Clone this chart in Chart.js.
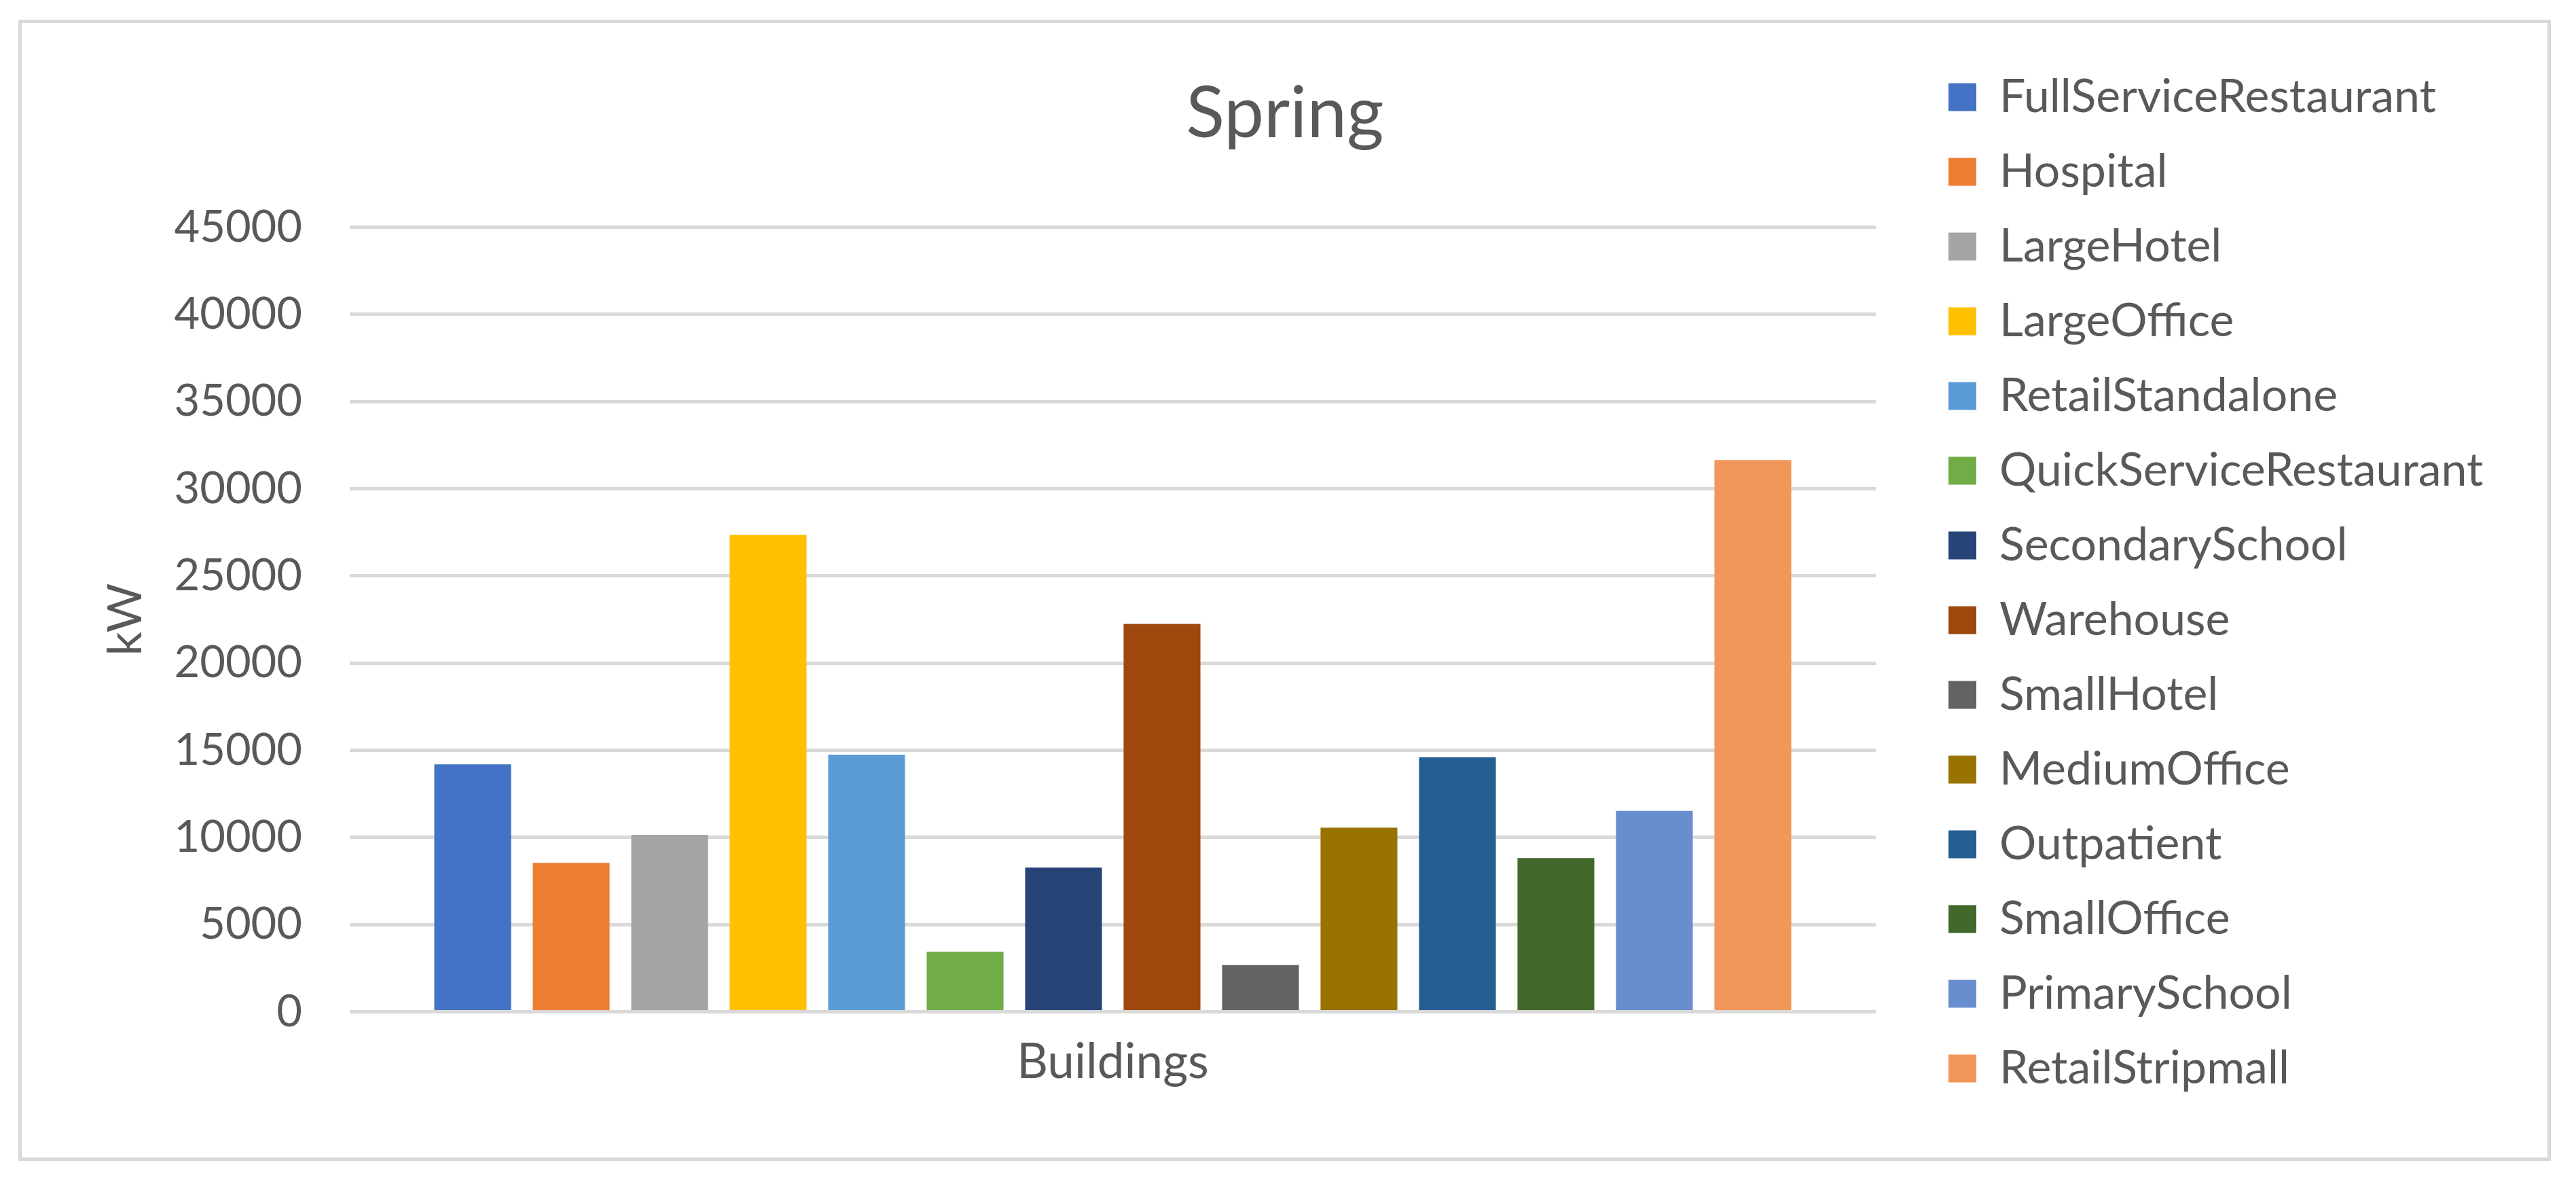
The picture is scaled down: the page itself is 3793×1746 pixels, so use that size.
<!DOCTYPE html>
<html>
<head>
<meta charset="utf-8">
<script src="https://cdn.jsdelivr.net/npm/chart.js@4/dist/chart.umd.min.js"></script>
<style>
    html, body { margin: 0; padding: 0; background: #fff; }
    #wrap { position: relative; width: 3793px; height: 1746px; }
    #frame {
        position: absolute; left: 27px; top: 29px; width: 3729px; height: 1680px;
        box-sizing: border-box; border: 5px solid #d9d9d9; pointer-events: none;
    }
    canvas { position: absolute; left: 0; top: 0; }
</style>
</head>
<body>
<div id="wrap">
    <canvas id="chart" width="3793" height="1746"></canvas>
    <div id="frame"></div>
</div>
<script>
const categories = ["Buildings"];

const buildingNames = [
    "FullServiceRestaurant", "Hospital", "LargeHotel", "LargeOffice",
    "RetailStandalone", "QuickServiceRestaurant", "SecondarySchool", "Warehouse",
    "SmallHotel", "MediumOffice", "Outpatient", "SmallOffice",
    "PrimarySchool", "RetailStripmall"
];

const springKW = [
    14200, 8550, 10150, 27350,
    14750, 3450, 8270, 22250,
    2680, 10560, 14600, 8820,
    11530, 31650
];

const yTickValues = [0, 5000, 10000, 15000, 20000, 25000, 30000, 35000, 40000, 45000];

const BAR_COLORS = [
    "#4472C4", "#ED7D31", "#A5A5A5", "#FFC000",
    "#5B9BD5", "#70AD47", "#264478", "#9E480E",
    "#636363", "#997300", "#255E91", "#43682B",
    "#698ED0", "#F1975A"
];

const TEXT = "#595959";
const FONT = "Lato";
const W = 3793;

const LEGEND_SIZE = 68;
const LEGEND_PAD = 42;
const LEGEND_BOX = 41;
const LEGEND_LEFT = 2827;   // where the legend box should start
const TITLE_CENTER = 1892;  // Excel centres the title on the whole frame
const KW_CENTER = 185;

function buildChart() {
    // the legend sits at the right edge, so its width decides the right padding
    const m = document.createElement("canvas").getContext("2d");
    m.font = LEGEND_SIZE + "px " + FONT;
    const longest = Math.max(...buildingNames.map(n => m.measureText(n).width));
    const legendWidth = LEGEND_PAD + LEGEND_BOX + LEGEND_SIZE / 2 + longest + 10;
    const padRight = Math.max(0, W - LEGEND_LEFT - legendWidth);
    const padLeft = Math.max(0, 2 * TITLE_CENTER - W + padRight);

    const ctx = document.getElementById("chart").getContext("2d");

    new Chart(ctx, {
        type: "bar",
        data: {
            labels: categories,
            datasets: buildingNames.map((name, i) => ({
                label: name,
                data: [springKW[i]],
                backgroundColor: BAR_COLORS[i],
                borderWidth: 0,
                categoryPercentage: 0.9034,
                barPercentage: 0.78,
            })),
        },
        options: {
            responsive: false,
            animation: false,
            layout: { padding: { top: 40, bottom: 70, left: padLeft, right: padRight } },
            plugins: {
                tooltip: { enabled: false },
                title: {
                    display: true,
                    text: "Spring",
                    color: TEXT,
                    font: { family: FONT, size: 105, weight: "normal", lineHeight: 1.2 },
                    padding: { top: 65, bottom: 103.6 },
                },
                legend: {
                    position: "right",
                    maxWidth: 2000,
                    labels: {
                        color: TEXT,
                        font: { family: FONT, size: LEGEND_SIZE },
                        boxWidth: LEGEND_BOX,
                        boxHeight: LEGEND_BOX,
                        padding: LEGEND_PAD,
                    },
                },
            },
            scales: {
                x: {
                    grid: { display: false },
                    border: { display: false },
                    ticks: {
                        color: TEXT,
                        font: { family: FONT, size: 71 },
                        padding: 24,
                    },
                    afterFit: (scale) => { scale.height = 186.4; },
                },
                y: {
                    min: 0,
                    max: 45000,
                    border: { display: false },
                    grid: { color: "#d9d9d9", lineWidth: 5, drawTicks: false },
                    afterBuildTicks: (scale) => {
                        scale.ticks = yTickValues.map(v => ({ value: v }));
                    },
                    ticks: {
                        color: TEXT,
                        font: { family: FONT, size: 65 },
                        padding: 70,
                        callback: (v) => String(v),
                    },
                    title: {
                        display: true,
                        text: "kW",
                        color: TEXT,
                        font: { family: FONT, size: 70, lineHeight: 1 },
                        padding: { top: Math.max(0, KW_CENTER - padLeft - 35), bottom: 0 },
                    },
                    afterFit: (scale) => { scale.width = 515 - padLeft; },
                },
                // empty axis, only keeps the gap between plot and legend
                y2: {
                    position: "right",
                    grid: { display: false },
                    border: { display: false },
                    ticks: { display: false },
                    afterFit: (scale) => { scale.width = 65; },
                },
            },
        },
    });
}

document.fonts.load("65px Lato").then(buildChart, buildChart);
</script>
</body>
</html>
